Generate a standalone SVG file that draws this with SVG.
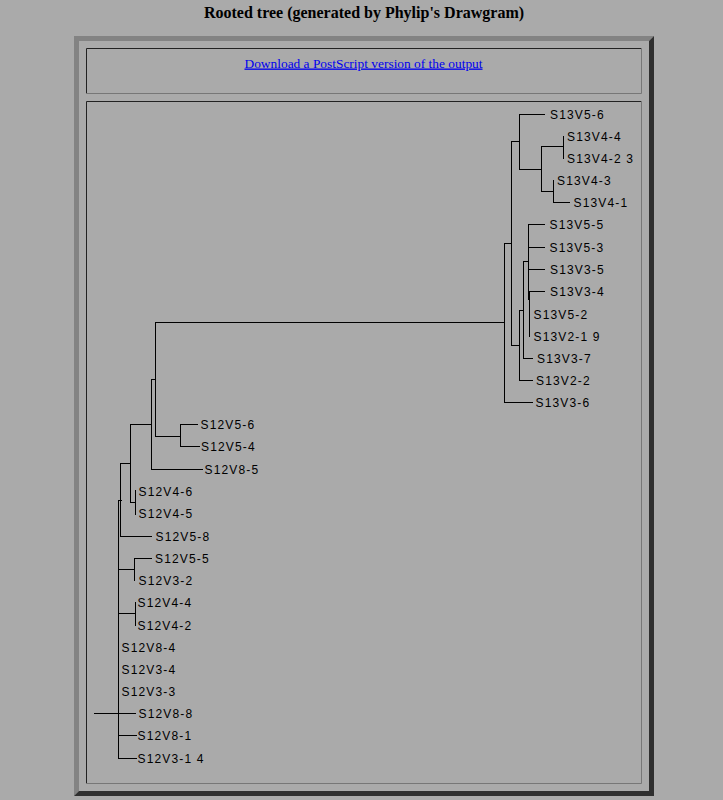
<svg xmlns="http://www.w3.org/2000/svg" width="723" height="800" viewBox="0 0 723 800">
<style>
.bg{fill:#aaaaaa}
.title{font-family:"Liberation Serif","Times New Roman",serif;font-weight:bold;font-size:16px;fill:#000}
.link{font-family:"Liberation Serif","Times New Roman",serif;font-size:13.4px;fill:#0000ee;text-decoration:underline}
.lbl{font-family:"Liberation Sans",Arial,sans-serif;font-size:12px;letter-spacing:1.15px;fill:#000}
.br{fill:none;stroke:#000;stroke-width:1;stroke-linecap:square}
.dk{fill:none;stroke:#222;stroke-width:1}
.lt{fill:none;stroke:#777;stroke-width:1}
</style>
<rect class="bg" x="0" y="0" width="723" height="800"/>
<g id="title"><text class="title" x="364" y="18" text-anchor="middle">Rooted tree (generated by Phylip's Drawgram)</text></g>
<g id="frame">
<polygon points="74,36 654,36 649,41 79,41 79,791 74,796" fill="#838383"/>
<polygon points="654,36 654,796 74,796 79,791 649,791 649,41" fill="#2f2f2f"/>
<path class="dk" d="M86.5,94 V48.5 H642"/>
<path class="lt" d="M86,93.5 H641.5 V48"/>
<path class="dk" d="M86.5,784 V101.5 H642"/>
<path class="lt" d="M86,783.5 H641.5 V101"/>
</g>
<g id="download-link"><text class="link" x="363.5" y="67.5" text-anchor="middle">Download a PostScript version of the output</text></g>
<g id="connectors" shape-rendering="crispEdges">
<path class="br" d="M155.5,322.5 H504.5"/>
<path class="br" d="M504.5,243.5 V402.5 M504.5,402.5 H532.5"/>
<path class="br" d="M504.5,243.5 H511.5 M511.5,141.5 V345.5"/>
<path class="br" d="M511.5,141.5 H519.5 M519.5,114.5 V169.5 M519.5,114.5 H544.5"/>
<path class="br" d="M519.5,169.5 H541.5 M541.5,146.5 V191.5"/>
<path class="br" d="M541.5,146.5 H563.5 M563.5,136.5 V158.5"/>
<path class="br" d="M541.5,191.5 H553.5 M553.5,180.5 V202.5 M553.5,202.5 H569.5"/>
<path class="br" d="M511.5,345.5 H519.5 M519.5,310.5 V380.5 M519.5,380.5 H532.5"/>
<path class="br" d="M519.5,310.5 H523.5 M523.5,261.5 V358.5 M523.5,358.5 H532.5"/>
<path class="br" d="M523.5,261.5 H528.5 M528.5,224.5 V299.5 M528.5,224.5 H544.5 M528.5,247.5 H544.5 M528.5,269.5 H544.5"/>
<path class="br" d="M528.5,299.5 H529.5 M529.5,291.5 V336.5 M529.5,291.5 H544.5"/>
<path class="br" d="M155.5,322.5 V436.5 M151.5,379.5 H155.5"/>
<path class="br" d="M155.5,436.5 H180.5 M180.5,424.5 V446.5 M180.5,424.5 H197.5 M180.5,446.5 H199.5"/>
<path class="br" d="M151.5,379.5 V469.5 M151.5,469.5 H202.5 M130.5,424.5 H151.5"/>
<path class="br" d="M130.5,424.5 V502.5 M120.5,463.5 H130.5 M130.5,502.5 H135.5 M135.5,490.5 V514.5"/>
<path class="br" d="M120.5,463.5 V536.5 M120.5,536.5 H151.5 M118.5,500.5 H121.5"/>
<path class="br" d="M118.5,500.5 V758.5"/>
<path class="br" d="M118.5,569.5 H134.5 M134.5,558.5 V580.5 M134.5,558.5 H151.5"/>
<path class="br" d="M118.5,613.5 H135.5 M135.5,602.5 V625.5"/>
<path class="br" d="M94.5,713.5 H135.5"/>
<path class="br" d="M118.5,735.5 H136.5 M118.5,758.5 H136.5"/>
</g>
<g id="leaf-S13V5-6"><text class="lbl" x="550" y="118.7">S13V5-6</text></g>
<g id="leaf-S13V4-4"><text class="lbl" x="567" y="140.7">S13V4-4</text></g>
<g id="leaf-S13V4-2_3"><text class="lbl" x="567" y="162.7">S13V4-2 3</text></g>
<g id="leaf-S13V4-3"><text class="lbl" x="557" y="184.7">S13V4-3</text></g>
<g id="leaf-S13V4-1"><text class="lbl" x="573.5" y="206.7">S13V4-1</text></g>
<g id="leaf-S13V5-5"><text class="lbl" x="549.5" y="228.7">S13V5-5</text></g>
<g id="leaf-S13V5-3"><text class="lbl" x="549.5" y="251.7">S13V5-3</text></g>
<g id="leaf-S13V3-5"><text class="lbl" x="550" y="273.7">S13V3-5</text></g>
<g id="leaf-S13V3-4"><text class="lbl" x="550" y="295.7">S13V3-4</text></g>
<g id="leaf-S13V5-2"><text class="lbl" x="533.5" y="318.7">S13V5-2</text></g>
<g id="leaf-S13V2-1_9"><text class="lbl" x="533.5" y="340.7">S13V2-1 9</text></g>
<g id="leaf-S13V3-7"><text class="lbl" x="537" y="362.7">S13V3-7</text></g>
<g id="leaf-S13V2-2"><text class="lbl" x="536" y="384.7">S13V2-2</text></g>
<g id="leaf-S13V3-6"><text class="lbl" x="535.5" y="406.7">S13V3-6</text></g>
<g id="leaf-S12V5-6"><text class="lbl" x="200.5" y="428.7">S12V5-6</text></g>
<g id="leaf-S12V5-4"><text class="lbl" x="201" y="451.2">S12V5-4</text></g>
<g id="leaf-S12V8-5"><text class="lbl" x="204.5" y="473.7">S12V8-5</text></g>
<g id="leaf-S12V4-6"><text class="lbl" x="138.5" y="495.7">S12V4-6</text></g>
<g id="leaf-S12V4-5"><text class="lbl" x="138.5" y="518.2">S12V4-5</text></g>
<g id="leaf-S12V5-8"><text class="lbl" x="155.5" y="540.7">S12V5-8</text></g>
<g id="leaf-S12V5-5"><text class="lbl" x="155" y="562.7">S12V5-5</text></g>
<g id="leaf-S12V3-2"><text class="lbl" x="138.5" y="584.7">S12V3-2</text></g>
<g id="leaf-S12V4-4"><text class="lbl" x="137.5" y="606.7">S12V4-4</text></g>
<g id="leaf-S12V4-2"><text class="lbl" x="137.5" y="629.7">S12V4-2</text></g>
<g id="leaf-S12V8-4"><text class="lbl" x="121.5" y="651.7">S12V8-4</text></g>
<g id="leaf-S12V3-4"><text class="lbl" x="121.5" y="673.7">S12V3-4</text></g>
<g id="leaf-S12V3-3"><text class="lbl" x="121.5" y="695.7">S12V3-3</text></g>
<g id="leaf-S12V8-8"><text class="lbl" x="138.5" y="717.7">S12V8-8</text></g>
<g id="leaf-S12V8-1"><text class="lbl" x="137.5" y="740.2">S12V8-1</text></g>
<g id="leaf-S12V3-1_4"><text class="lbl" x="137.5" y="762.7">S12V3-1 4</text></g>
</svg>
